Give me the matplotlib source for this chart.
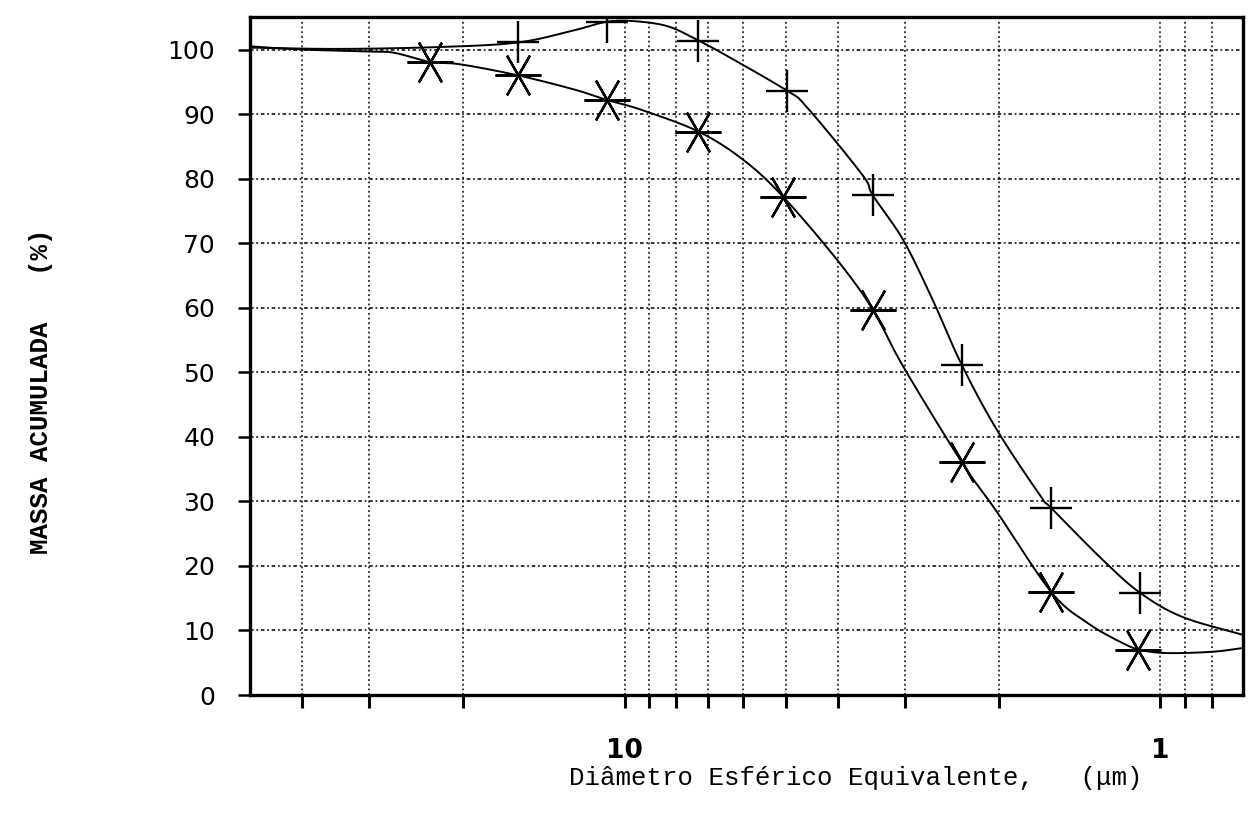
import numpy as np
import matplotlib
matplotlib.use("Agg")
import matplotlib.pyplot as plt

# ---- data ----
# marker points (diameter in um, cumulative mass %)
plus_d = [15.8, 10.8, 7.28, 4.97, 3.44, 2.35, 1.60, 1.09]
plus_m = [101.1, 104.3, 101.4, 93.6, 77.4, 51.2, 29.0, 15.8]

star_d = [23.1, 15.8, 10.8, 7.28, 5.06, 3.44, 2.35, 1.60, 1.10]
star_m = [98.1, 96.0, 92.2, 87.3, 77.2, 59.7, 36.1, 16.0, 7.0]

# hand-drawn fitted curves
plus_curve_d = [50, 34, 22, 15.8, 12.4, 10.8, 9.6, 8.3, 7.28, 6.4, 4.97, 4.56,
                3.6, 3.44, 3.02, 2.66, 2.35, 2.02, 1.67, 1.60, 1.28, 1.09, 0.91, 0.70]
plus_curve_m = [100.3, 100.1, 100.4, 101.1, 103.0, 104.3, 104.4, 103.6, 101.4, 98.9, 93.6, 91.0,
                80.6, 77.4, 70.5, 61.2, 51.2, 41.1, 30.7, 29.0, 20.9, 15.8, 12.1, 9.3]

star_curve_d = [50, 40, 30, 26.9, 23.1, 20.2, 15.8, 12.4, 10.8, 9.33, 7.28, 6.0, 5.06,
                4.01, 3.44, 3.02, 2.35, 2.02, 1.60, 1.37, 1.18, 1.09, 0.975, 0.80, 0.70]
star_curve_m = [100.5, 100.0, 99.7, 99.5, 98.1, 97.7, 96.0, 93.8, 92.2, 90.7, 87.3, 82.9, 77.2,
                67.4, 59.7, 50.9, 36.1, 28.4, 16.0, 11.2, 8.1, 7.0, 6.5, 6.7, 7.3]

x_grid = [40, 30, 20, 10, 9, 8, 7, 6, 5, 4, 3, 2, 1, 0.9, 0.8]
x_labels = {10: "10", 1: "1"}
y_ticks = [0, 10, 20, 30, 40, 50, 60, 70, 80, 90, 100]

xlabel = "Diâmetro Esférico Equivalente,   (μm)"
ylabel = "MASSA ACUMULADA   (%)"


def smooth(xs, ys, n=24):
    """Catmull-Rom spline through the read points, in log-x space."""
    pts = np.column_stack([np.log10(xs), ys])
    P = np.vstack([2 * pts[0] - pts[1], pts, 2 * pts[-1] - pts[-2]])
    out = []
    t = np.linspace(0, 1, n, endpoint=False)[:, None]
    for i in range(1, len(P) - 2):
        p0, p1, p2, p3 = P[i - 1], P[i], P[i + 1], P[i + 2]
        seg = 0.5 * (2 * p1 + (-p0 + p2) * t + (2 * p0 - 5 * p1 + 4 * p2 - p3) * t ** 2
                     + (-p0 + 3 * p1 - 3 * p2 + p3) * t ** 3)
        out.append(seg)
    out.append(P[-2][None])
    out = np.vstack(out)
    return 10 ** out[:, 0], out[:, 1]


fig = plt.figure(figsize=(12.56, 8.23), dpi=100)
ax = fig.add_axes([0.199, 0.1555, 0.791, 0.8235])

ax.set_xscale("log")
ax.set_xlim(50, 0.7)
ax.set_ylim(0, 105)

# grid
for v in x_grid:
    ax.axvline(v, color="black", lw=1.3, ls=(0, (1, 1.6)), alpha=0.85, zorder=1)
for v in y_ticks[1:]:
    ax.axhline(v, color="black", lw=1.3, ls=(0, (2, 1.5, 1, 1.5)), alpha=0.85, zorder=1)

# curves
cx, cy = smooth(plus_curve_d, plus_curve_m)
ax.plot(cx, cy, color="black", lw=1.4, zorder=3)
cx, cy = smooth(star_curve_d, star_curve_m)
ax.plot(cx, cy, color="black", lw=1.4, zorder=3)

# markers
ax.plot(plus_d, plus_m, ls="none", marker="+", ms=30, mew=1.7, color="black", zorder=4)
ax.plot(star_d, star_m, ls="none", marker=(6, 2, 90), ms=33, mew=1.7, color="black", zorder=4)

# ticks
ax.minorticks_off()
ax.set_xticks(x_grid)
ax.set_xticklabels([x_labels.get(v, "") for v in x_grid])
ax.set_yticks(y_ticks)
ax.set_yticklabels([str(v) for v in y_ticks])
ax.tick_params(axis="x", direction="out", length=9, width=2.2, pad=22,
               labelsize=19)
ax.tick_params(axis="y", direction="out", length=9, width=1.8, pad=16,
               labelsize=18)
for lab in ax.get_xticklabels():
    lab.set_fontweight("bold")
for lab in ax.get_yticklabels():
    lab.set_fontweight("medium")

for s in ax.spines.values():
    s.set_linewidth(2.4)

fig.text(0.681, 0.055, xlabel, ha="center", va="center",
         family="Liberation Mono", fontsize=18.5)
fig.text(0.033, 0.524, ylabel, ha="center", va="center", rotation=90,
         family="Liberation Mono", fontweight="bold", fontsize=18.5)

fig.savefig("out.png", dpi=100, facecolor="white")
